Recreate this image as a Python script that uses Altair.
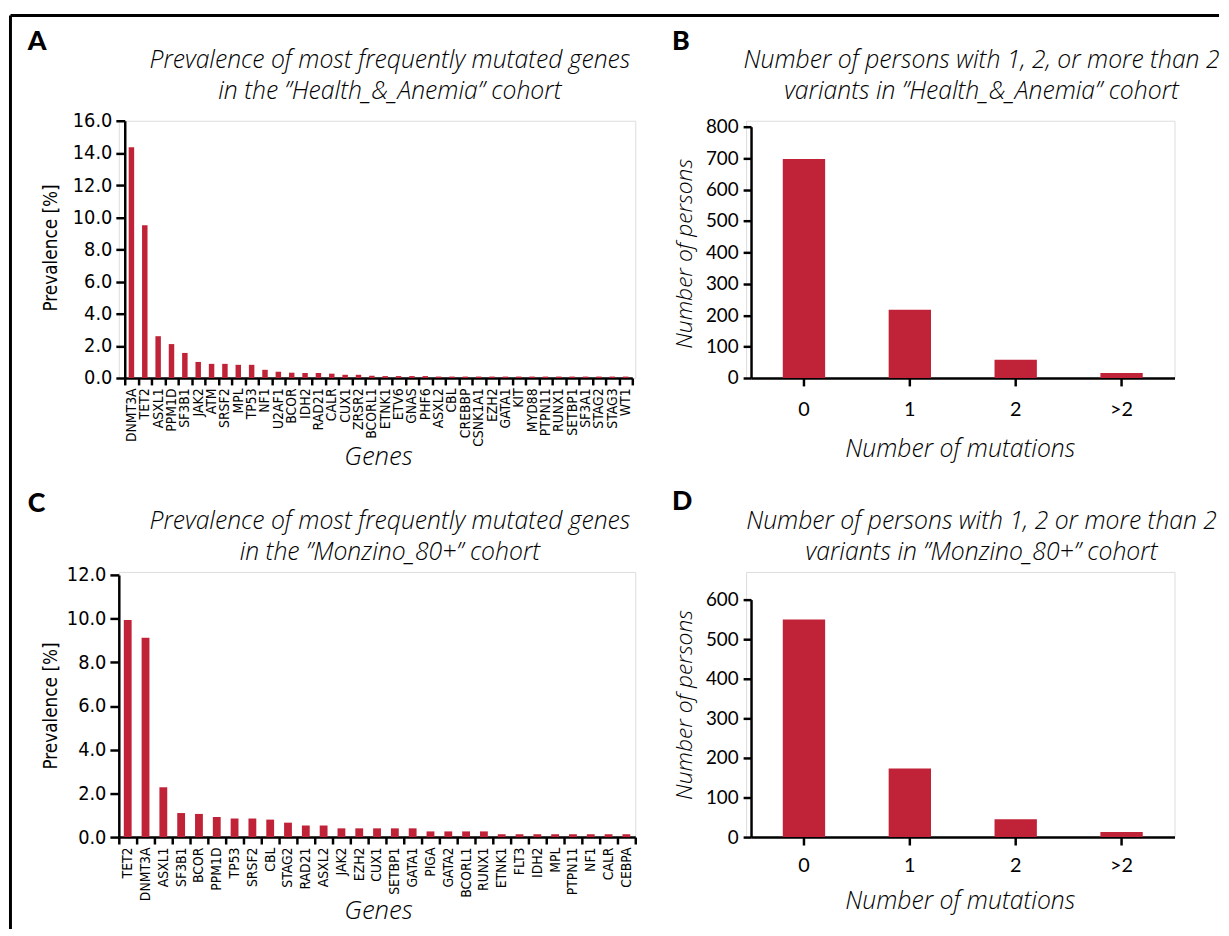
import altair as alt
import pandas as pd

# ---------------- data ----------------
genes_a = ["DNMT3A", "TET2", "ASXL1", "PPM1D", "SF3B1", "JAK2", "ATM", "SRSF2", "MPL", "TP53",
           "NF1", "U2AF1", "BCOR", "IDH2", "RAD21", "CALR", "CUX1", "ZRSR2", "BCORL1", "ETNK1",
           "ETV6", "GNAS", "PHF6", "ASXL2", "CBL", "CREBBP", "CSNK1A1", "EZH2", "GATA1", "KIT",
           "MYD88", "PTPN11", "RUNX1", "SETBP1", "SF3A1", "STAG2", "STAG3", "WT1"]
prev_a = [14.35, 9.5, 2.6, 2.11, 1.56, 1.0, 0.88, 0.88, 0.82, 0.82,
          0.51, 0.39, 0.33, 0.31, 0.31, 0.27, 0.2, 0.2, 0.14, 0.12,
          0.12, 0.12, 0.12, 0.09, 0.09, 0.09, 0.09, 0.09, 0.09, 0.09,
          0.09, 0.09, 0.09, 0.09, 0.09, 0.09, 0.09, 0.09]

genes_c = ["TET2", "DNMT3A", "ASXL1", "SF3B1", "BCOR", "PPM1D", "TP53", "SRSF2", "CBL", "STAG2",
           "RAD21", "ASXL2", "JAK2", "EZH2", "CUX1", "SETBP1", "GATA1", "PIGA", "GATA2", "BCORL1",
           "RUNX1", "ETNK1", "FLT3", "IDH2", "MPL", "PTPN11", "NF1", "CALR", "CEBPA"]
prev_c = [9.93, 9.12, 2.28, 1.1, 1.06, 0.92, 0.85, 0.85, 0.8, 0.66,
          0.53, 0.53, 0.4, 0.4, 0.4, 0.4, 0.4, 0.26, 0.26, 0.26,
          0.26, 0.13, 0.13, 0.13, 0.13, 0.13, 0.13, 0.13, 0.13]

mut_cats = ["0", "1", "2", ">2"]
persons_b = [697, 217, 58, 16]
persons_d = [550, 173, 45, 13]

title_a = ["Prevalence of most frequently mutated genes", "in the \u201dHealth_&_Anemia\u201d cohort"]
title_b = ["Number of persons with 1, 2, or more than 2", "variants in \u201dHealth_&_Anemia\u201d cohort"]
title_c = ["Prevalence of most frequently mutated genes", "in the \u201dMonzino_80+\u201d cohort"]
title_d = ["Number of persons with 1, 2 or more than 2", "variants in \u201dMonzino_80+\u201d cohort"]

# ---------------- style ----------------
RED = "#C02338"
COND = "'Liberation Sans Narrow', 'DejaVu Sans Condensed', 'Roboto Condensed', Roboto, sans-serif"
SANS = "Lato, 'Open Sans', sans-serif"
TSANS = "'Open Sans', Lato, sans-serif"
one = pd.DataFrame({"k": [0]})

AX = dict(domainColor="black", domainWidth=2.5, tickColor="black", tickWidth=2.5,
          labelColor="black", titleColor="black", grid=False)


def txt(text, x, y, size, style="italic", weight=300, align="center", font=TSANS):
    return alt.Chart(one).mark_text(
        align=align, baseline="alphabetic", fontSize=size, fontStyle=style,
        fontWeight=weight, font=font, lineHeight=31, color="black"
    ).encode(x=alt.value(x), y=alt.value(y), text=alt.value(text))


def rule(x1, x2, y1, y2):
    return alt.Chart(one).mark_rule(color="black", strokeWidth=3).encode(
        x=alt.value(x1), x2=alt.value(x2), y=alt.value(y1), y2=alt.value(y2))


def gene_panel(genes, vals, xrange, yrange, ymax, height, yoff, ytx, yty, gtx, gty, bandfrac):
    df = pd.DataFrame({"gene": genes, "prev": vals})
    return alt.Chart(df).mark_bar(color=RED, width=alt.RelativeBandSize(bandfrac)).encode(
        x=alt.X("gene:N", sort=genes,
                scale=alt.Scale(range=xrange, paddingInner=0, paddingOuter=0),
                axis=alt.Axis(title="Genes", labelAngle=-90, labelFont=COND, labelFontSize=14,
                              labelPadding=3, tickBand="extent", tickSize=7,
                              titleFont=TSANS, titleFontSize=26, titleFontStyle="italic",
                              titleFontWeight=300, titleX=gtx, titleY=gty,
                              titleBaseline="middle", titleAlign="center", **AX)),
        y=alt.Y("prev:Q", scale=alt.Scale(domain=[0, ymax], nice=False, range=yrange),
                axis=alt.Axis(values=list(range(0, ymax + 1, 2)), format=".1f",
                              title="Prevalence [%]", offset=yoff, tickSize=9, labelPadding=4,
                              labelFont=COND, labelFontSize=20,
                              titleFont=COND, titleFontSize=19, titleFontWeight="normal",
                              titleX=ytx, titleY=yty, titleBaseline="middle",
                              titleAlign="center", **AX)),
    ).properties(width=522, height=height)


def count_panel(vals, ymax, yrange, height, ytx, yty, xtx, xty, lpad):
    df = pd.DataFrame({"cat": mut_cats, "n": vals})
    return alt.Chart(df).mark_bar(color=RED, width=alt.RelativeBandSize(0.4)).encode(
        x=alt.X("cat:N", sort=mut_cats,
                scale=alt.Scale(range=[5, 433], paddingInner=0, paddingOuter=0),
                axis=alt.Axis(title="Number of mutations", labelAngle=0, labelFont=SANS,
                              labelFontSize=20, labelPadding=lpad, tickSize=8,
                              titleFont=TSANS, titleFontSize=25, titleFontStyle="italic",
                              titleFontWeight=300, titleX=xtx, titleY=xty,
                              titleBaseline="middle", titleAlign="center", **AX)),
        y=alt.Y("n:Q", scale=alt.Scale(domain=[0, ymax], nice=False, range=yrange),
                axis=alt.Axis(values=list(range(0, ymax + 1, 100)), title="Number of persons",
                              offset=-5, tickSize=8, labelPadding=5, labelFont=SANS,
                              labelFontSize=19,
                              titleFont=TSANS, titleFontSize=23, titleFontStyle="italic",
                              titleFontWeight=300, titleX=ytx, titleY=yty,
                              titleBaseline="middle", titleAlign="center", **AX)),
    ).properties(width=433, height=height)


bars_a = gene_panel(genes_a, prev_a, [6, 519], [260, 0], 16, 260, -6, -75, 128, 262, 79, 0.41)
bars_c = gene_panel(genes_c, prev_c, [0, 522], [268, 3], 12, 268, 0, -69, 135, 262, 74, 0.44)
bars_b = count_panel(persons_b, 800, [260, 6], 260, -67, 134, 216, 71, 14)
bars_d = count_panel(persons_d, 600, [268, 28], 268, -67, 134, 216, 64, 11)

panel_a = alt.layer(
    bars_a,
    rule(-109.5, 1112, -106.5, -106.5),
    rule(-109.5, -109.5, -106.5, 817),
    txt("A", -92, -72, 27, style="normal", weight=900, align="left", font=SANS),
    txt(title_a, 274, -53, 25),
)
panel_b = alt.layer(
    bars_b,
    txt("B", -75, -72, 27, style="normal", weight=900, align="left", font=SANS),
    txt(title_b, 238, -53, 25),
)
panel_c = alt.layer(
    bars_c,
    txt("C", -92, -61, 27, style="normal", weight=900, align="left", font=SANS),
    txt(title_c, 274, -43, 25),
)
panel_d = alt.layer(
    bars_d,
    txt("D", -75, -63, 27, style="normal", weight=900, align="left", font=SANS),
    txt(title_d, 238, -43, 25),
)

chart = alt.concat(
    panel_a, panel_b, panel_c, panel_d,
    columns=2, spacing={"row": 196, "column": 112}, bounds="flush", align="each",
).properties(
    padding={"left": 0, "top": 0, "right": 0, "bottom": 0}
).configure_view(stroke=None).configure(background="white")

chart.save("out.html", embed_options={"renderer": "svg", "actions": False})
